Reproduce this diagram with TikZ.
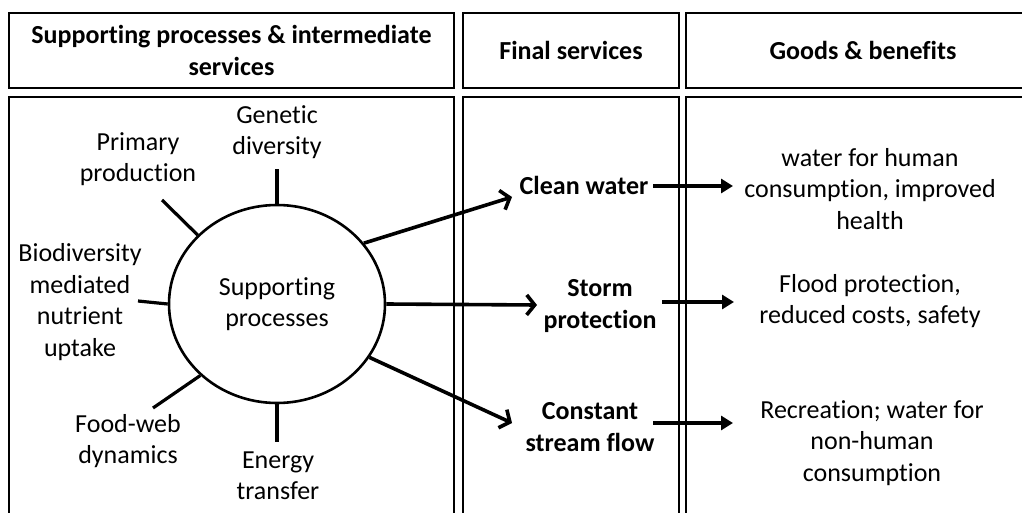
\documentclass[tikz,border=0pt]{standalone}
\usepackage{fontspec}
\setmainfont{Carlito}[Ligatures=NoCommon]
\usetikzlibrary{arrows.meta,shapes.geometric}
\begin{document}
\begin{tikzpicture}[x=1pt,y=-1pt,
  frame/.style={line width=2.4pt},
  lbl/.style={align=center, font=\fontsize{26}{31.5}\selectfont, inner sep=0pt},
  hdr/.style={align=center, font=\fontsize{26}{31.5}\selectfont\bfseries, inner sep=0pt},
  hbox/.style={hdr, draw, frame, minimum height=75pt},
  spoke/.style={line width=3.2pt},
  flow/.style={line width=3.6pt, -{Straight Barb[length=8pt,width=20pt,line width=3.6pt]}},
  give/.style={line width=3.4pt, -{Triangle[length=12pt,width=14pt]}},
]
\useasboundingbox (0,0) rectangle (1022,513);
\clip (0,0) rectangle (1022,513);

% column headers
\node[hbox, minimum width=445pt] (h1) at (231.5,50.5) {Supporting processes \& intermediate\\services};
\node[hbox, minimum width=216pt] (h2) at (571,50.5) {Final services};
\node[hbox, minimum width=354pt] (h3) at (863,50.5) {Goods \& benefits};

% column bodies, open at the bottom
\draw[frame] (9,530) |- (454,97) -- (454,530);
\draw[frame] (463,530) |- (679,97) -- (679,530);
\draw[frame] (686,530) |- (1040,97) -- (1040,530);

% supporting processes hub
\node[draw, ellipse, line width=2.6pt, minimum width=216pt, minimum height=198pt, lbl] (sp) at (277,304) {Supporting\\processes};

% surrounding processes
\node[lbl] (gen) at (277,132) {Genetic\\diversity};
\node[lbl] (prim) at (138,159) {Primary\\production};
\node[lbl] (bio) at (80,302) {Biodiversity\\mediated\\nutrient\\uptake};
\node[lbl] (food) at (128,441) {Food-web\\dynamics};
\node[lbl] (ener) at (278,476) {Energy\\transfer};

\coordinate (genEnd) at (277,169);
\coordinate (primEnd) at (162,200);
\coordinate (bioEnd) at (138,301);
\coordinate (foodEnd) at (153,408);
\coordinate (enerEnd) at (277,442);

\draw[spoke] (sp.north) -- (genEnd);
\draw[spoke] (sp.139) -- (primEnd);
\draw[spoke] (sp.west) -- (bioEnd);
\draw[spoke] (sp.223) -- (foodEnd);
\draw[spoke] (sp.south) -- (enerEnd);

% final services
\node[hdr] (cw) at (584,185) {Clean water};
\node[hdr] (storm) at (600,306) {Storm\\protection};
\node[hdr] (csf) at (590,427) {Constant\\stream flow};

\coordinate (cwIn) at (512,197);
\coordinate (stormIn) at (537,305);
\coordinate (csfIn) at (512,423);

\draw[flow] (sp.35.8) -- (cwIn);
\draw[flow] (sp.east) -- (stormIn);
\draw[flow] (sp.-30.5) -- (csfIn);

% goods and benefits
\node[lbl] (g1) at (870,189) {water for human\\consumption, improved\\health};
\node[lbl] (g2) at (870,301) {Flood protection,\\reduced costs, safety};
\node[lbl] (g3) at (872,443) {Recreation; water for\\non-human\\consumption};

\coordinate (cwOut) at (653,186);
\coordinate (stormOut) at (662,302);
\coordinate (csfOut) at (653,423);
\coordinate (g1In) at (733,186);
\coordinate (g2In) at (734,302);
\coordinate (g3In) at (733,423);

\draw[give] (cwOut) -- (g1In);
\draw[give] (stormOut) -- (g2In);
\draw[give] (csfOut) -- (g3In);
\end{tikzpicture}
\end{document}
